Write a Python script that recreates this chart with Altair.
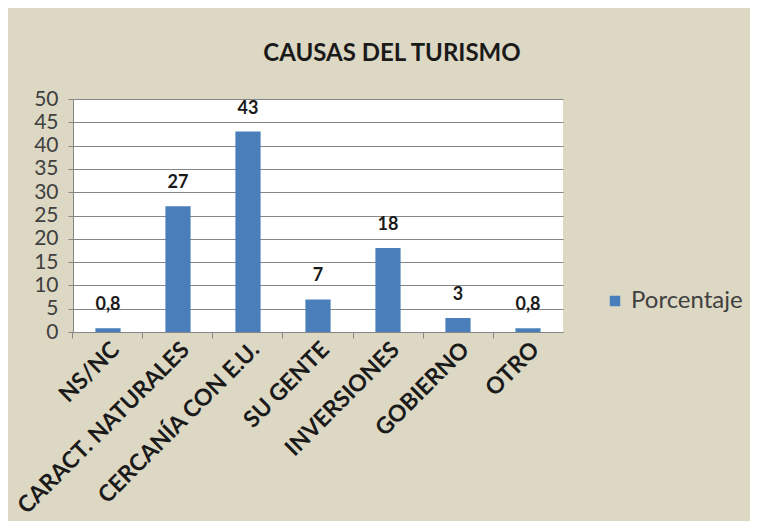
import altair as alt
import pandas as pd

categorias = ["NS/NC", "CARACT. NATURALES", "CERCANÍA CON E.U.", "SU GENTE",
              "INVERSIONES", "GOBIERNO", "OTRO"]
valores = [0.8, 27, 43, 7, 18, 3, 0.8]
etiquetas = ["0,8", "27", "43", "7", "18", "3", "0,8"]
serie = ["Porcentaje"] * len(categorias)

df = pd.DataFrame({"cat": categorias, "val": valores, "lab": etiquetas, "serie": serie})

FONT = "Lato"
P = 0.64
xscale = alt.Scale(paddingInner=P, paddingOuter=P / 2)

x = alt.X("cat:N", sort=categorias, scale=xscale, title=None,
          axis=alt.Axis(labelAngle=-45, labelFont=FONT, labelFontWeight="bold",
                        labelFontSize=23, labelColor="#1a1a1a",
                        bandPosition=-(P / 2) / (1 - P),
                        tickSize=6, tickColor="#868686", domainColor="#868686",
                        labelPadding=0, grid=False, labelOverlap=False, labelLimit=0))

y = alt.Y("val:Q", title=None,
          scale=alt.Scale(domain=[0, 50], nice=False),
          axis=alt.Axis(values=list(range(0, 51, 5)), labelFont=FONT, labelFontSize=21,
                        labelColor="#404040", tickSize=5, tickColor="#868686",
                        domainColor="#868686", gridColor="#868686", gridWidth=1,
                        labelPadding=10, labelOverlap=False))

bars = alt.Chart(df).mark_bar().encode(
    x=x, y=y,
    color=alt.Color("serie:N", scale=alt.Scale(range=["#4A7EBB"]), title=None,
                    legend=alt.Legend(orient="none", legendX=530, legendY=190,
                                      symbolType="square", symbolSize=110,
                                      labelFont=FONT, labelFontSize=24,
                                      labelColor="#404040", symbolStrokeWidth=0)),
)

text = alt.Chart(df).mark_text(baseline="bottom", dy=-14, font=FONT, fontWeight="bold",
                               fontSize=18, color="#1a1a1a").encode(
    x=x, y=y, text="lab:N")

chart = alt.layer(bars, text).properties(
    width=490, height=233,
    padding={"left": 65, "top": 91, "right": 187, "bottom": 189},
    autosize=alt.AutoSizeParams(type="none"),
    background="#DDD8C4",
    title=alt.TitleParams("CAUSAS DEL TURISMO", font=FONT, fontSize=24, fontWeight="bold",
                          color="#1a1a1a", anchor="middle", dx=74, offset=22),
).configure_view(fill="white", stroke=None)

chart.save("out.html", embed_options={"renderer": "svg", "actions": False})
